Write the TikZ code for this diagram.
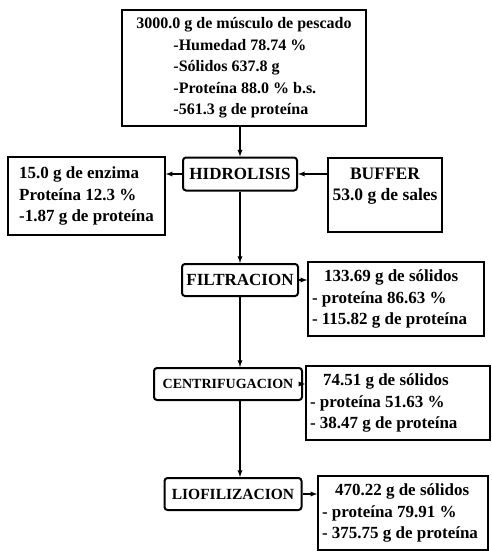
\documentclass[tikz,border=0pt]{standalone}
\usepackage{fontspec}
\setmainfont{Liberation Serif}
\usetikzlibrary{arrows}

\newcommand{\tam}[1]{\bfseries\fontsize{#1}{21.5}\selectfont}

\begin{document}
\begin{tikzpicture}[x=1pt, y=-1pt, >=latex,
	every node/.style={font=\tam{16}},
	datos/.style={draw, line width=1.5pt, inner sep=4pt, align=left},
	salida/.style={datos, align=flush left, font=\tam{17}, minimum height=74pt},
	etapa/.style={draw, line width=2pt, rounded corners=3pt, inner sep=3pt, minimum height=32pt},
	flujo/.style={->, line width=1.3pt}]
		\useasboundingbox (0,0) rectangle (491,551);
		% materia prima
		\node[datos, minimum width=244pt, minimum height=116pt] (mp) at (244,68) {3000.0 g de músculo de pescado\\
			\hspace*{37pt}-Humedad 78.74 \%\\
			\hspace*{37pt}-Sólidos 637.8 g\\
			\hspace*{37pt}-Proteína 88.0 \% b.s.\\
			\hspace*{37pt}-561.3 g de proteína};
		
		% etapas
		\node[etapa, minimum width=114pt, minimum height=33pt, font=\tam{17}] (hid) at (240,174) {HIDROLISIS};
		\node[etapa, minimum width=116pt, font=\tam{17}] (fil) at (240,280) {FILTRACION};
		\node[etapa, minimum width=148pt, font=\tam{14}] (cen) at (228,384) {CENTRIFUGACION};
		\node[etapa, minimum width=137pt, font=\tam{15.5}] (lio) at (233,494) {LIOFILIZACION};
		
		% entradas
		\node[datos, font=\tam{17}, minimum width=157pt, minimum height=78pt] (enz) at (86.5,196) {15.0 g de enzima\\Proteína 12.3 \%\\-1.87 g de proteína};
		\node[datos, font=\tam{17.5}, align=center, minimum width=114pt, minimum height=74pt] (buf) at (385,195) {BUFFER\\53.0 g de sales\\\mbox{}};
		
		% salidas
		\node[salida, text width=168pt] (s1) at (396,299) {\hspace*{12pt}133.69 g de sólidos\\- proteína 86.63 \%\\- 115.82 g de proteína};
		\node[salida, text width=176pt] (s2) at (398,403) {\hspace*{13pt}74.51 g de sólidos\\- proteína 51.63 \%\\- 38.47 g de proteína};
		\node[salida, text width=162pt] (s3) at (403,513) {\hspace*{13pt}470.22 g de sólidos\\- proteína 79.91 \%\\- 375.75 g de proteína};
		
		\draw[flujo] (mp.south -| hid.north) -- (hid.north);
		\draw[flujo] (hid.west) -- (hid.west -| enz.east);
		\draw[flujo] (buf.west |- hid.east) -- (hid.east);
		\draw[flujo] (hid.south) -- (fil.north);
		\draw[flujo] (fil.south) -- (fil.south |- cen.north);
		\draw[flujo] (cen.south -| fil.south) -- (fil.south |- lio.north);
		\draw[flujo] (fil.east) -- (fil.east -| s1.west);
		\draw[flujo] (cen.east) -- (cen.east -| s2.west);
		\draw[flujo] (lio.east) -- (lio.east -| s3.west);
	\end{tikzpicture}
\end{document}
